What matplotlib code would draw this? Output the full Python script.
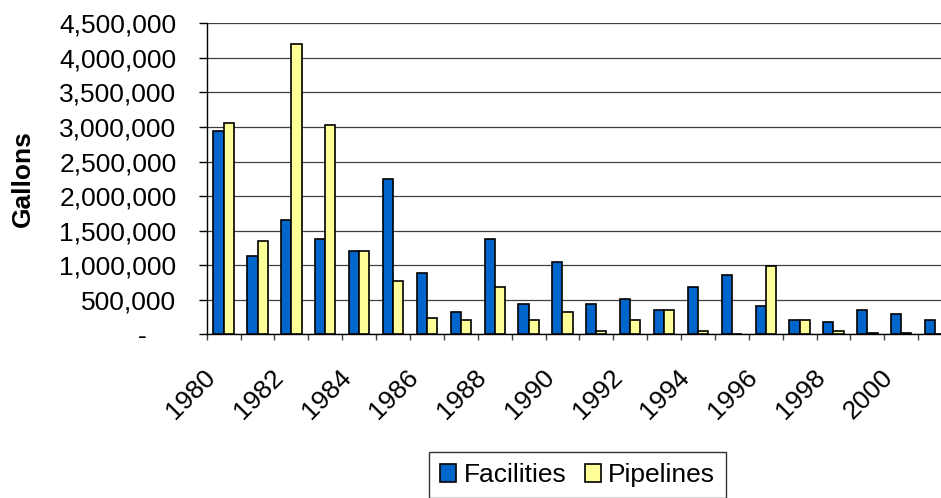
import matplotlib
matplotlib.use("Agg")
import matplotlib.pyplot as plt
import matplotlib.transforms as mtransforms
from matplotlib.ticker import FixedLocator, FuncFormatter
import numpy as np

plt.rcParams['font.family'] = ['Liberation Sans', 'DejaVu Sans']

years = list(range(1980, 2002))
facilities = [2940000, 1140000, 1650000, 1380000, 1200000, 2250000, 893000, 323000,
              1380000, 444000, 1047000, 444000, 507000, 353000, 686000, 865000,
              416000, 203000, 174000, 353000, 295000, 203000]
pipelines = [3056000, 1350000, 4205000, 3027000, 1200000, 772000, 236000, 203000,
             690000, 203000, 323000, 50000, 200000, 353000, 50000, 0,
             985000, 203000, 50000, 25000, 25000, 0]
tick_years = [str(y) for y in range(1980, 2001, 2)]
y_ticks = list(range(0, 4500001, 500000))

W, H = 941, 498
fig = plt.figure(figsize=(W / 100, H / 100), dpi=100)
ax = fig.add_axes([206.7 / W, 1 - 334.3 / H, 22 * 33.88 / W, (334.3 - 23.3) / H])

x = np.arange(len(years))
bw = 0.3
ax.bar(x - bw / 2, facilities, width=bw, color='#0066CC', edgecolor='black',
       linewidth=1.2, label='Facilities', zorder=3)
ax.bar(x + bw / 2, pipelines, width=bw, color='#FFFF99', edgecolor='black',
       linewidth=1.2, label='Pipelines', zorder=3)

ax.set_xlim(-0.5, len(years) - 0.5)
ax.set_ylim(0, 4500000)

# y axis
ax.yaxis.set_major_locator(FixedLocator(y_ticks))
ax.yaxis.set_major_formatter(FuncFormatter(lambda v, p: '-    ' if v == 0 else f'{int(v):,}'))
ax.tick_params(axis='y', direction='out', length=5.8, width=1, pad=16,
               labelsize=19, colors='black')
ax.yaxis.grid(True, color='#404040', linewidth=0.9, zorder=0)
ax.set_axisbelow(True)

# x axis
ax.set_xticks(x[::2])
ax.set_xticklabels(tick_years)
ax.set_xticks(np.arange(-0.5, len(years), 1.0), minor=True)
ax.tick_params(axis='x', which='major', length=0, pad=28, labelsize=19)
ax.tick_params(axis='x', which='minor', direction='out', length=4.3, width=1, color='#404040')
offset = mtransforms.ScaledTranslation(-12 / 100, 0, fig.dpi_scale_trans)
for lbl in ax.get_xticklabels():
    lbl.set_rotation(45)
    lbl.set_ha('right')
    lbl.set_va('center')
    lbl.set_rotation_mode('anchor')
    lbl.set_transform(lbl.get_transform() + offset)

for s in ['top', 'right']:
    ax.spines[s].set_visible(False)
ax.spines['left'].set_color('black')
ax.spines['bottom'].set_color('black')
ax.spines['left'].set_linewidth(1)
ax.spines['bottom'].set_linewidth(1)

fig.text(22.5 / W, 1 - 178.5 / H, 'Gallons', rotation=90, ha='center', va='center',
         fontsize=19, fontweight='bold')

leg = fig.legend(loc='upper left', bbox_to_anchor=(429.3 / W, 1 - 452.3 / H),
                 ncol=2, fontsize=19, frameon=True, fancybox=False, shadow=False,
                 borderpad=0.42, handlelength=0.6, handleheight=0.64,
                 handletextpad=0.28, columnspacing=0.7, borderaxespad=0)
leg.get_frame().set_edgecolor('black')
leg.get_frame().set_linewidth(1)

fig.savefig('out.png', dpi=100)
